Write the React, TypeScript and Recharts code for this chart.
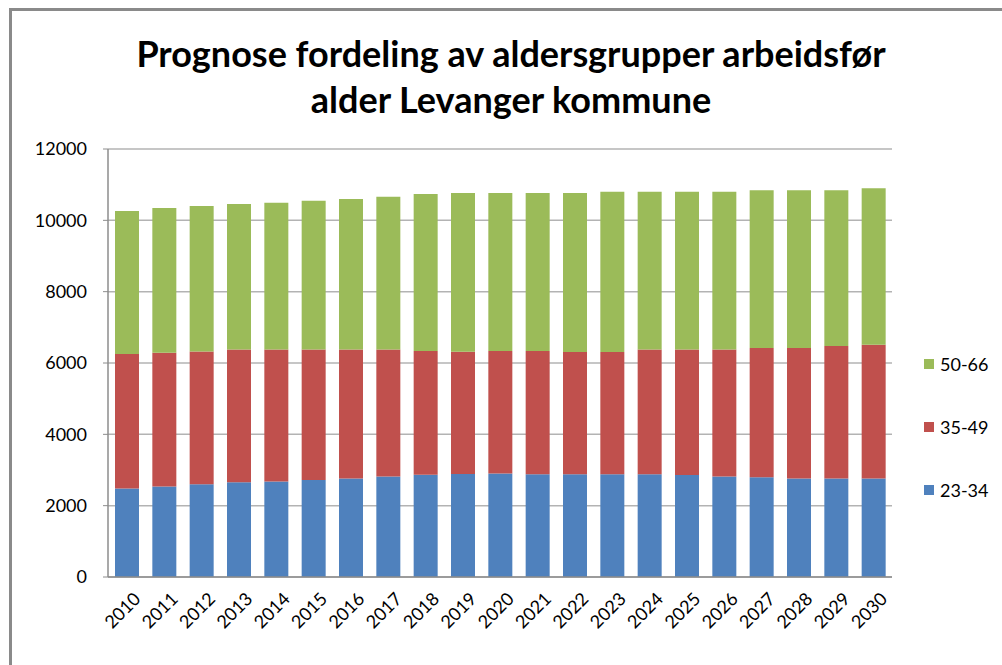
import React from "react";
import { BarChart, Bar, XAxis, YAxis, CartesianGrid } from "recharts";

const years = [
  "2010", "2011", "2012", "2013", "2014", "2015", "2016", "2017", "2018", "2019", "2020",
  "2021", "2022", "2023", "2024", "2025", "2026", "2027", "2028", "2029", "2030",
];

const age23to34 = [
  2480, 2540, 2600, 2655, 2675, 2720, 2765, 2820, 2870, 2890, 2905,
  2880, 2880, 2880, 2880, 2860, 2820, 2795, 2765, 2765, 2765,
];

const age35to49 = [
  3770, 3750, 3720, 3725, 3705, 3660, 3615, 3560, 3465, 3425, 3430,
  3455, 3430, 3430, 3500, 3520, 3560, 3625, 3655, 3710, 3745,
];

const age50to66 = [
  4010, 4055, 4080, 4075, 4115, 4170, 4220, 4280, 4405, 4450, 4430,
  4430, 4455, 4490, 4420, 4420, 4420, 4420, 4420, 4365, 4390,
];

const yTicks = [0, 2000, 4000, 6000, 8000, 10000, 12000];

const series = [
  { key: "a", name: "23-34", color: "#4f81bd" },
  { key: "b", name: "35-49", color: "#c0504d" },
  { key: "c", name: "50-66", color: "#9bbb59" },
];

const data = years.map((year, i) => ({
  year,
  a: age23to34[i],
  b: age35to49[i],
  c: age50to66[i],
}));

const FONT = "Lato, 'Open Sans', sans-serif";

// Excel lists the stacked series top-down in the legend
function LegendBox() {
  return (
    <div
      style={{
        position: "absolute",
        left: 924,
        top: 348,
        fontFamily: FONT,
        fontSize: 18,
        color: "#000",
      }}
    >
      {[...series].reverse().map((s) => (
        <div key={s.key} style={{ display: "flex", alignItems: "center", height: 32, marginBottom: 31 }}>
          <span
            style={{
              width: 10,
              height: 10,
              background: s.color,
              marginRight: 6,
              display: "inline-block",
            }}
          />
          {s.name}
        </div>
      ))}
    </div>
  );
}

export default function App() {
  return (
    <div
      style={{
        position: "absolute",
        left: 0,
        top: 0,
        width: 1002,
        height: 665,
        overflow: "hidden",
        background: "#fff",
      }}
    >
      <div
        style={{
          position: "absolute",
          left: 9,
          top: 8,
          width: 1010,
          height: 680,
          border: "3px solid #8a8a8a",
          boxSizing: "border-box",
        }}
      />
      <div
        style={{
          position: "absolute",
          left: 0,
          top: 30,
          width: 1022,
          textAlign: "center",
          fontFamily: FONT,
          fontWeight: 700,
          fontSize: 36,
          lineHeight: "46px",
          color: "#000",
        }}
      >
        Prognose fordeling av aldersgrupper arbeidsfør
        <br />
        alder Levanger kommune
      </div>
      <BarChart
        width={1002}
        height={665}
        data={data}
        margin={{ top: 149, right: 110, left: 0, bottom: 0 }}
        barSize={24}
      >
        <CartesianGrid vertical={false} stroke="#b3b3b3" strokeWidth={1.5} />
        <XAxis
          dataKey="year"
          height={88}
          axisLine={{ stroke: "#8c8c8c", strokeWidth: 1.5 }}
          tickLine={false}
          interval={0}
          angle={-45}
          textAnchor="end"
          tick={{ fontFamily: FONT, fontSize: 18, fill: "#000", dx: 6, dy: 6 }}
        />
        <YAxis
          width={108}
          domain={[0, 12000]}
          ticks={yTicks}
          interval={0}
          axisLine={{ stroke: "#8c8c8c", strokeWidth: 1.5 }}
          tickLine={{ stroke: "#8c8c8c" }}
          tickSize={5}
          tickMargin={16}
          tick={{ fontFamily: FONT, fontSize: 18, fill: "#000" }}
        />
        {series.map((s) => (
          <Bar
            key={s.key}
            dataKey={s.key}
            name={s.name}
            stackId="1"
            fill={s.color}
            isAnimationActive={false}
          />
        ))}
      </BarChart>
      <LegendBox />
    </div>
  );
}
